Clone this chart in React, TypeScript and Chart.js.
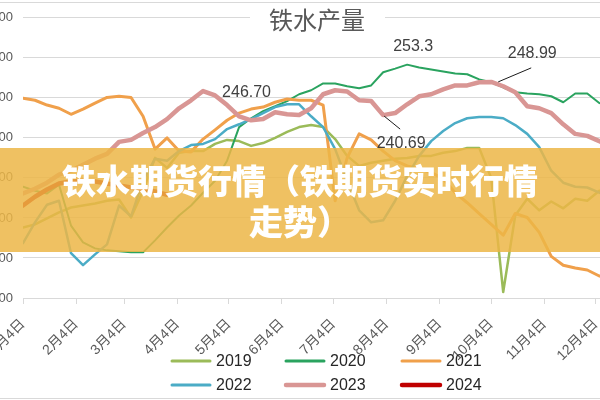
import React, { useEffect, useRef } from "react";
import { Chart, registerables } from "chart.js";

Chart.register(...registerables);

// ---------- data ----------
const chartTitle = "铁水产量";
const bannerLines = ["铁水期货行情（铁期货实时行情", "走势）"];

const seriesNames = ["2019", "2020", "2021", "2022", "2023", "2024"];
const seriesColors = ["#9BBB59", "#2AA35F", "#F0A04B", "#4BACC6", "#D99694", "#C00000"];
const seriesWidths = [2.5, 2, 3, 2.5, 4.5, 4.5];

const weekStepDays = 7;
const monthTickDays = [0, 31, 59, 90, 120, 151, 181, 212, 243, 273, 304, 334];
const monthTickLabels = [
  "1月4日", "2月4日", "3月4日", "4月4日", "5月4日", "6月4日",
  "7月4日", "8月4日", "9月4日", "10月4日", "11月4日", "12月4日",
];
const xMaxDay = 365;

const yMin = 195;
const yMax = 265;
const yStep = 10;

const values2019 = [
  212.6, 213.4, 214.9, 216.4, 217.6, 218.1, 218.6, 219.3, 219.6, 215.1, 221.8, 230.0, 227.5,
  231.3, 231.7, 231.7, 233.5, 234.5, 234.2, 233.0, 233.7, 235.0, 236.5, 237.7, 238.2, 237.7,
  234.7, 230.5, 228.0, 228.8, 229.3, 229.8, 230.0, 230.5, 230.5, 231.3, 231.7, 232.5, 232.5,
  225.0, 196.5, 215.6, 219.8, 216.9, 219.1, 217.4, 219.8, 219.3, 221.8, 222.0, 223.0, 222.5,
];
const values2020 = [
  222.8, 221.8, 221.1, 223.3, 213.1, 208.9, 207.4, 206.9, 206.7, 206.4, 206.4, 209.4, 212.6,
  215.6, 218.1, 221.3, 224.3, 229.3, 237.7, 239.9, 241.7, 242.9, 244.2, 245.9, 246.9, 248.6,
  248.6, 247.9, 247.4, 248.1, 251.4, 252.3, 253.3, 252.6, 252.1, 251.6, 251.1, 250.9, 249.6,
  248.9, 247.6, 246.4, 246.1, 245.9, 245.4, 243.9, 246.1, 246.1, 243.7, 243.0, 242.0, 241.0,
];
const values2021 = [
  244.9, 244.4, 243.2, 242.4, 240.9, 242.2, 243.7, 245.1, 245.4, 245.1, 240.4, 232.2, 235.0,
  231.7, 231.5, 234.7, 237.0, 239.4, 241.2, 242.2, 242.7, 243.9, 244.7, 244.4, 244.4, 243.2,
  219.3, 230.0, 236.0, 234.5, 231.7, 229.3, 228.0, 227.3, 226.3, 224.8, 221.3, 218.8, 216.1,
  213.4, 210.7, 216.1, 215.1, 211.4, 205.4, 203.2, 202.5, 202.0, 200.5, 200.0, 199.5, 199.0,
];
const values2022 = [
  208.7, 213.9, 218.3, 219.3, 206.2, 203.2, 205.9, 208.4, 218.1, 215.4, 224.3, 229.8, 229.3,
  231.7, 233.2, 233.5, 234.7, 237.2, 238.4, 239.7, 241.2, 242.7, 243.4, 243.4, 240.4, 237.7,
  232.2, 224.3, 216.9, 213.9, 214.4, 219.3, 225.5, 230.5, 234.2, 236.7, 238.7, 239.9, 240.2,
  240.2, 239.9, 238.2, 236.0, 232.7, 226.8, 223.8, 222.8, 222.6, 221.3, 220.0, 219.0, 218.0,
];
const values2023 = [
  221.1, 222.3, 223.8, 225.8, 226.8, 228.3, 229.8, 231.0, 234.0, 234.5, 236.2, 237.7, 239.7,
  242.4, 244.4, 246.7, 245.6, 243.2, 240.4, 239.4, 239.7, 241.4, 240.9, 240.7, 242.4, 245.9,
  246.9, 246.6, 244.4, 244.2, 240.69, 241.2, 243.4, 245.4, 245.9, 247.1, 248.1, 248.1, 248.9,
  248.99, 247.9, 246.4, 242.9, 242.4, 241.2, 238.4, 236.0, 235.5, 234.2, 232.5, 231.0, 229.0,
];
const values2024 = [
  218.1, 220.3, 222.1, 223.6, 224.1, 224.3, 224.1, 223.6, 223.1, 222.6, 222.1, 221.6, 220.8,
];

const seriesValues = [values2019, values2020, values2021, values2022, values2023, values2024];

// data labels: series index, week index, decimals, placement
const calloutSeries = [1, 4, 4, 4];
const calloutWeeks = [32, 15, 39, 30];
const calloutDecimals = [1, 2, 2, 2];
const calloutPlacement = ["above", "right", "upright", "downright"];

// ---------- drawing helpers ----------
const SHIFT_X = 60; // canvas starts 60px left of the window (chart is cropped)
const FONT_LATIN = "'Liberation Sans', 'Noto Sans CJK SC', sans-serif";

const decorPlugin = {
  id: "decor",
  afterDatasetsDraw(chart: any) {
    const ctx = chart.ctx;
    ctx.save();
    ctx.font = `16px ${FONT_LATIN}`;
    ctx.fillStyle = "#404040";
    ctx.strokeStyle = "#1a1a1a";
    ctx.lineWidth = 1;
    ctx.textBaseline = "middle";
    calloutSeries.forEach((s, k) => {
      const pt = chart.getDatasetMeta(s).data[calloutWeeks[k]];
      if (!pt) return;
      const text = seriesValues[s][calloutWeeks[k]].toFixed(calloutDecimals[k]);
      const { x, y } = pt;
      const place = calloutPlacement[k];
      if (place === "above") {
        ctx.textAlign = "center";
        ctx.fillText(text, x + 6, y - 18);
      } else if (place === "right") {
        ctx.textAlign = "left";
        ctx.fillText(text, x + 19, y + 2);
      } else if (place === "upright") {
        ctx.beginPath();
        ctx.moveTo(x + 7, y);
        ctx.lineTo(x + 40, y - 14);
        ctx.stroke();
        ctx.textAlign = "center";
        ctx.fillText(text, x + 41, y - 28);
      } else {
        ctx.beginPath();
        ctx.moveTo(x + 1, y + 1);
        ctx.lineTo(x + 17, y + 14);
        ctx.stroke();
        ctx.textAlign = "center";
        ctx.fillText(text, x + 18, y + 28);
      }
    });
    ctx.restore();
  },
  afterDraw(chart: any) {
    const ctx = chart.ctx;
    const w = chart.width;
    ctx.save();
    // outer frame lines
    ctx.strokeStyle = "#D9D9D9";
    ctx.lineWidth = 1;
    ctx.beginPath();
    ctx.moveTo(0, 2.5);
    ctx.lineTo(w, 2.5);
    ctx.moveTo(0, 398.5);
    ctx.lineTo(w, 398.5);
    ctx.stroke();
    // title with white box
    ctx.fillStyle = "#ffffff";
    ctx.fillRect(250 + SHIFT_X, 6, 135, 26);
    ctx.fillStyle = "#595959";
    ctx.font = `24px 'Noto Sans CJK SC', sans-serif`;
    ctx.textAlign = "center";
    ctx.textBaseline = "middle";
    ctx.fillText(chartTitle, 317 + SHIFT_X, 20);
    // legend (3 columns x 2 rows)
    const colX = [172, 286, 402];
    const rowY = [361, 385];
    ctx.font = `16px ${FONT_LATIN}`;
    ctx.textAlign = "left";
    chart.data.datasets.forEach((ds: any, i: number) => {
      const lx = colX[i % 3] + SHIFT_X;
      const ly = rowY[Math.floor(i / 3)];
      ctx.strokeStyle = ds.borderColor;
      ctx.lineWidth = Math.max(3, ds.borderWidth);
      ctx.lineCap = "round";
      ctx.beginPath();
      ctx.moveTo(lx, ly);
      ctx.lineTo(lx + 38, ly);
      ctx.stroke();
      ctx.fillStyle = "#262626";
      ctx.fillText(ds.label, lx + 44, ly + 1);
    });
    ctx.restore();
  },
};

export default function App() {
  const canvasRef = useRef<HTMLCanvasElement | null>(null);

  useEffect(() => {
    document.body.style.overflow = "hidden";
    const canvas = canvasRef.current;
    if (!canvas) return;
    const datasets = seriesNames.map((name, i) => ({
      label: name,
      data: seriesValues[i].map((v, k) => ({ x: k * weekStepDays, y: v })),
      borderColor: seriesColors[i],
      backgroundColor: seriesColors[i],
      borderWidth: seriesWidths[i],
      pointRadius: 0,
      tension: 0,
      fill: false,
      borderJoinStyle: "round" as const,
      borderCapStyle: "round" as const,
      order: seriesNames.length - 1 - i,
    }));

    const chart = new Chart(canvas, {
      type: "line",
      data: { datasets },
      options: {
        animation: false,
        responsive: false,
        devicePixelRatio: 1,
        layout: { padding: { top: 16, right: 11, left: 0, bottom: 0 } },
        plugins: {
          legend: { display: false },
          title: { display: false },
          tooltip: { enabled: false },
        },
        scales: {
          x: {
            type: "linear",
            min: 0,
            max: xMaxDay,
            afterBuildTicks: (scale: any) => {
              scale.ticks = monthTickDays.map((v) => ({ value: v }));
            },
            afterFit: (scale: any) => {
              scale.height = 102;
            },
            grid: {
              drawOnChartArea: false,
              drawTicks: true,
              tickLength: 6,
              color: "#D9D9D9",
            },
            border: { color: "#D9D9D9" },
            ticks: {
              autoSkip: false,
              minRotation: 45,
              maxRotation: 45,
              padding: 12,
              color: "#595959",
              font: { size: 14, family: FONT_LATIN },
              callback: (_v: any, i: number) => monthTickLabels[i],
            },
          },
          y: {
            min: yMin,
            max: yMax,
            afterFit: (scale: any) => {
              scale.width = 83;
            },
            grid: { color: "#D9D9D9", drawTicks: false },
            border: { display: false },
            ticks: {
              stepSize: yStep,
              padding: 10,
              color: "#595959",
              font: { size: 13, family: FONT_LATIN },
              callback: (v: any) => Number(v).toFixed(2),
            },
          },
        },
      },
      plugins: [decorPlugin],
    });
    return () => chart.destroy();
  }, []);

  return (
    <div
      style={{
        position: "fixed",
        left: 0,
        top: 0,
        width: 600,
        height: 400,
        overflow: "hidden",
        background: "#ffffff",
      }}
    >
      <div style={{ position: "absolute", left: -SHIFT_X, top: 0, width: 720, height: 400 }}>
        <canvas ref={canvasRef} width={720} height={400} style={{ width: 720, height: 400, display: "block" }} />
      </div>
      <div
        style={{
          position: "absolute",
          left: 0,
          top: 148,
          width: 600,
          height: 104,
          background: "rgba(236, 182, 70, 0.85)",
          color: "#ffffff",
          fontFamily: "'Noto Sans CJK SC', sans-serif",
          fontWeight: 900,
          fontSize: 34,
          lineHeight: "41px",
          textAlign: "center",
          paddingTop: 11,
          boxSizing: "border-box",
          whiteSpace: "nowrap",
        }}
      >
        {bannerLines[0]}
        <br />
        {bannerLines[1]}
      </div>
    </div>
  );
}
